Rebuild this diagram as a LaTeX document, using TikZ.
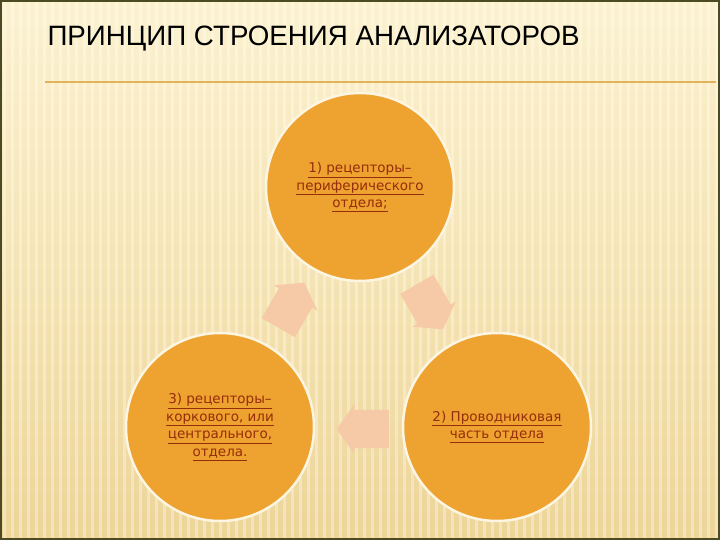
\documentclass[tikz,border=0pt]{standalone}
\usepackage{fontspec}
\setmainfont{Liberation Sans}
\newfontfamily\partfont{DejaVu Sans}
\newfontfamily\titlefont[FakeStretch=0.99]{Liberation Sans}
\usetikzlibrary{shapes.arrows,calc}
\definecolor{bgtop}{HTML}{FCF2D0}
\definecolor{bgbot}{HTML}{EDD598}
\definecolor{partfill}{HTML}{EEA22F}
\definecolor{partedge}{HTML}{FCF5E2}
\definecolor{linktext}{HTML}{962D0C}
\definecolor{turnfill}{HTML}{F6CAA6}
\definecolor{rulegold}{HTML}{E0B25A}
\definecolor{framedark}{HTML}{4B4A22}
\tikzset{
  part/.style={circle, minimum size=188pt, inner sep=0pt, fill=partfill, draw=partedge, line width=2.5pt,
    text=linktext, align=center, font=\partfont\fontsize{13.5}{17.5}\selectfont},
  turn/.style={single arrow, fill=turnfill, minimum height=52pt, minimum width=50pt,
    single arrow head extend=6pt, single arrow tip angle=110, inner xsep=4pt, inner ysep=19pt}
}
\begin{document}
\begin{tikzpicture}[x=1pt,y=-1pt]
		\useasboundingbox (0,0) rectangle (720,540);
		\shade[top color=bgtop, bottom color=bgbot] (0,0) rectangle (720,540);
		\foreach \x in {4,12,...,716}
			\draw[white, opacity=0.35, line width=3pt] (\x,0) -- (\x,540);
		\draw[rulegold, line width=1.5pt] (45,82) -- (716,82);
		\node[anchor=base west, font=\titlefont\fontsize{28}{30}\selectfont] (title) at (44,46) {ПРИНЦИП СТРОЕНИЯ АНАЛИЗАТОРОВ};
		\node[part] (c1) at (360,187) {\underline{1) рецепторы–}\\\underline{периферического}\\\underline{отдела;}};
		\node[part] (c2) at (497,427) {\underline{2) Проводниковая}\\\underline{часть отдела}};
		\node[part] (c3) at (220,427) {\underline{3) рецепторы–}\\\underline{коркового, или}\\\underline{центрального,}\\\underline{отдела.}};
		\node[turn, rotate=-60] (a12) at ($(c1)!0.5!(c2)+(-2,-6)$) {};
		\node[turn, rotate=180] (a23) at ($(c2)!0.5!(c3)+(11,2)$) {};
		\node[turn, rotate=60] (a31) at ($(c3)!0.5!(c1)+(-2,4)$) {};
		\draw[framedark, line width=2pt] (1,1) rectangle (719,539);
	\end{tikzpicture}
\end{document}
